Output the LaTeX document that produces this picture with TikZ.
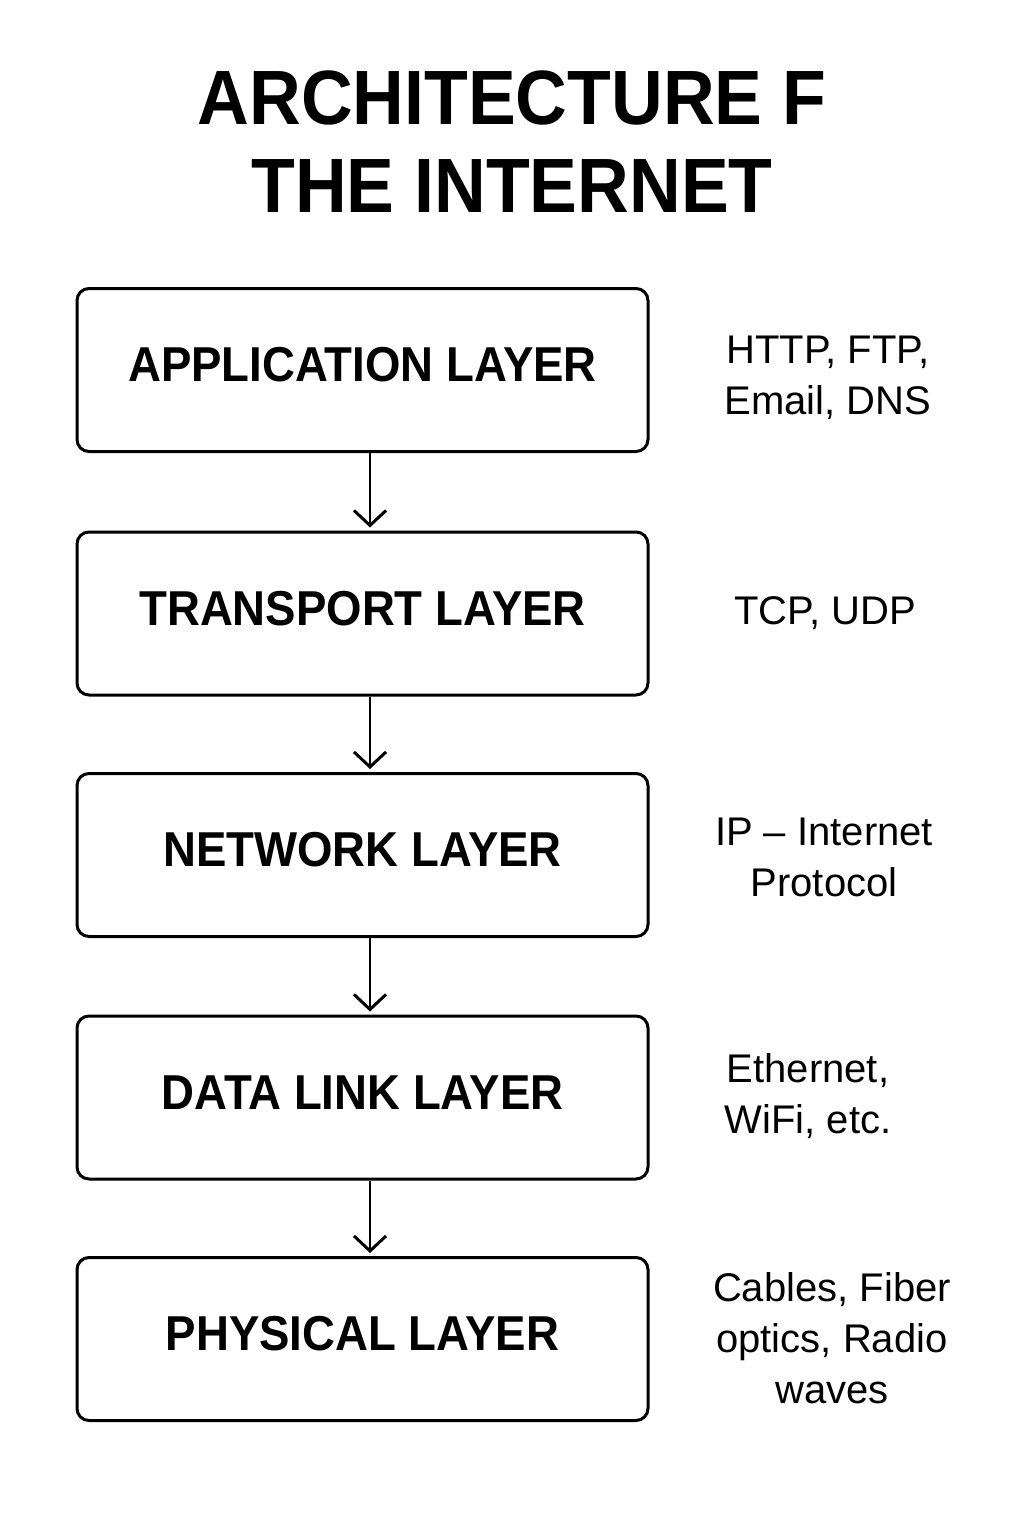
\documentclass[tikz,border=0pt]{standalone}
\usepackage{fontspec}
\setmainfont{Liberation Sans}
\newfontfamily\headfont[FakeStretch=0.93]{Liberation Sans}
\usetikzlibrary{arrows.meta}

\begin{document}
\begin{tikzpicture}[x=1pt,y=-1pt,
    layerbox/.style={draw=black, line width=3pt, rounded corners=12pt,
        minimum width=571pt, minimum height=163pt, inner sep=0pt,
        font=\headfont\bfseries\fontsize{49}{56}\selectfont,
        text height=35pt, text depth=12pt},
    protolabel/.style={align=center, inner sep=0pt,
        font=\fontsize{40}{51}\selectfont},
    layerarrow/.style={line width=2.5pt,
        -{Straight Barb[length=15pt,width=32pt,line width=3pt]}, shorten >=3pt}]

    \useasboundingbox (0,0) rectangle (1024,1536);

    % Title
    \node[align=center, inner sep=0pt,
        font=\headfont\bfseries\fontsize{77}{88}\selectfont] (title) at (512,142)
        {ARCHITECTURE F\\THE INTERNET};

    % Application layer
    \node[layerbox] (app) at (362.5,370) {APPLICATION LAYER};
    \node[protolabel] (appproto) at (828,378) {HTTP, FTP,\\Email, DNS};

    % Transport layer
    \node[layerbox] (trans) at (362.5,613.5) {TRANSPORT LAYER};
    \node[protolabel] (transproto) at (825,613) {TCP, UDP};

    % Network layer
    \node[layerbox] (net) at (362.5,855) {NETWORK LAYER};
    \node[protolabel] (netproto) at (824,857) {IP -- Internet\\Protocol};

    % Data link layer
    \node[layerbox] (link) at (362.5,1097.5) {DATA LINK LAYER};
    \node[protolabel] (linkproto) at (808,1096) {Ethernet,\\WiFi, etc.};

    % Physical layer
    \node[layerbox] (phys) at (362.5,1339) {PHYSICAL LAYER};
    \node[protolabel] (physproto) at (832,1338) {Cables, Fiber\\optics, Radio\\waves};

    % Arrows between the layers
    \draw[layerarrow] ([xshift=7.5pt]app.south) -- ([xshift=7.5pt]trans.north);
    \draw[layerarrow] ([xshift=7.5pt]trans.south) -- ([xshift=7.5pt]net.north);
    \draw[layerarrow] ([xshift=7.5pt]net.south) -- ([xshift=7.5pt]link.north);
    \draw[layerarrow] ([xshift=7.5pt]link.south) -- ([xshift=7.5pt]phys.north);

\end{tikzpicture}
\end{document}
